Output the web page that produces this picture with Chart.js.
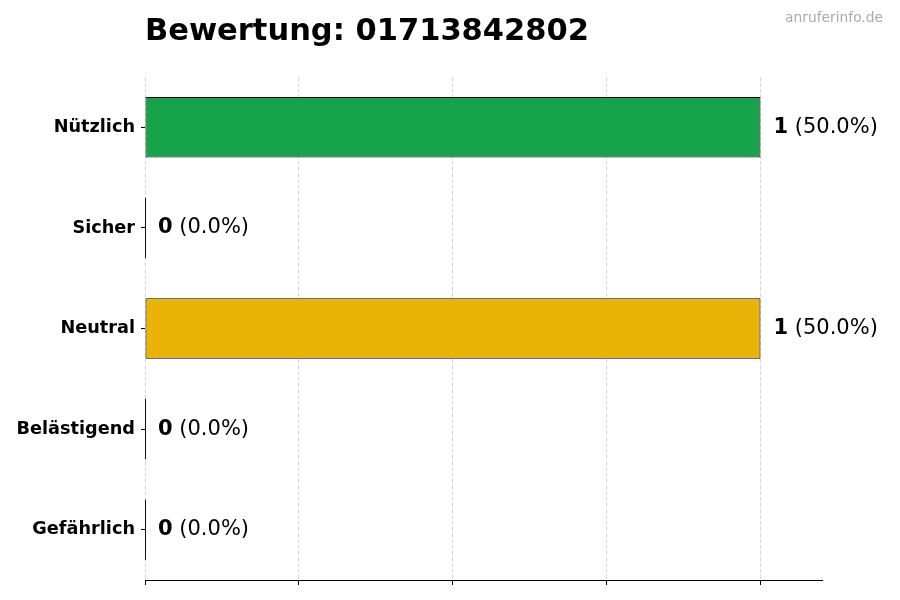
<!DOCTYPE html>
<html>
<head>
<meta charset="utf-8">
<title>Bewertung</title>
<script src="https://cdn.jsdelivr.net/npm/chart.js@4"></script>
<style>
body{margin:0;background:#fff;}
</style>
</head>
<body>
<canvas id="chart" width="900" height="600"></canvas>
<script>
const categories=["Nützlich","Sicher","Neutral","Belästigend","Gefährlich"];
const counts=[1,0,1,0,0];
const barColors=["#16a34a","#22c55e","#eab308","#f97316","#dc2626"];
const xTicks=[0,0.25,0.5,0.75,1.0];

const titleText="Bewertung: 01713842802";
const watermark="anruferinfo.de";
const FONT="'DejaVu Sans', sans-serif";

const total=counts.reduce((a,b)=>a+b,0);

const extras={
id:"extras",
afterDatasetsDraw(chart){
let ctx=chart.ctx;
let meta=chart.getDatasetMeta(0);
ctx.save();
meta.data.forEach((bar,i)=>{
let v=counts[i];
if(v===0){
ctx.strokeStyle="#111";
ctx.lineWidth=1;
ctx.beginPath();
ctx.moveTo(bar.x+0.5,bar.y-bar.height/2);
ctx.lineTo(bar.x+0.5,bar.y+bar.height/2);
ctx.stroke();
}
let pct=total?(v/total*100).toFixed(1):"0.0";
let x=bar.x+13;
ctx.fillStyle="#000";
ctx.textBaseline="middle";
ctx.textAlign="left";
ctx.font="bold 21px "+FONT;
let num=String(v);
ctx.fillText(num,x,bar.y);
let w=ctx.measureText(num).width;
ctx.font="21px "+FONT;
ctx.fillText(" ("+pct+"%)",x+w,bar.y);
});
ctx.restore();
},
afterDraw(chart){
let ctx=chart.ctx;
ctx.save();
ctx.textBaseline="alphabetic";
ctx.textAlign="left";
ctx.fillStyle="#000";
ctx.font="bold 30.5px "+FONT;
ctx.fillText(titleText,chart.chartArea.left,40);
ctx.textAlign="right";
ctx.fillStyle="#aaaaaa";
ctx.font="13.8px "+FONT;
ctx.fillText(watermark,883,22);
ctx.restore();
}
};

new Chart(document.getElementById("chart"),{
type:"bar",
data:{
labels:categories,
datasets:[{
data:counts,
backgroundColor:barColors,
borderColor:"#000",
borderWidth:1,
borderSkipped:false,
barPercentage:0.6,
categoryPercentage:1
}]
},
options:{
indexAxis:"y",
responsive:false,
animation:false,
devicePixelRatio:1,
layout:{padding:{top:77,right:78,bottom:0,left:0}},
plugins:{legend:{display:false},tooltip:{enabled:false},title:{display:false}},
scales:{
x:{
min:0,
max:1.1,
afterBuildTicks(scale){
scale.ticks=xTicks.map(v=>({value:v}));
},
afterFit(scale){scale.height=20;},
ticks:{display:false},
grid:{
color:"rgba(0,0,0,0.16)",
lineWidth:1,
tickColor:"#000",
tickLength:5,
tickBorderDash:[]
},
border:{display:true,color:"#000",width:1,dash:[4,2]}
},
y:{
afterFit(scale){scale.width=145;},
ticks:{
color:"#000",
padding:6,
font:{family:FONT,size:17.7,weight:"bold"}
},
grid:{
offset:false,
drawOnChartArea:false,
drawTicks:true,
tickLength:4,
tickColor:"#000"
},
border:{display:false}
}
}
},
plugins:[extras]
});
</script>
</body>
</html>
